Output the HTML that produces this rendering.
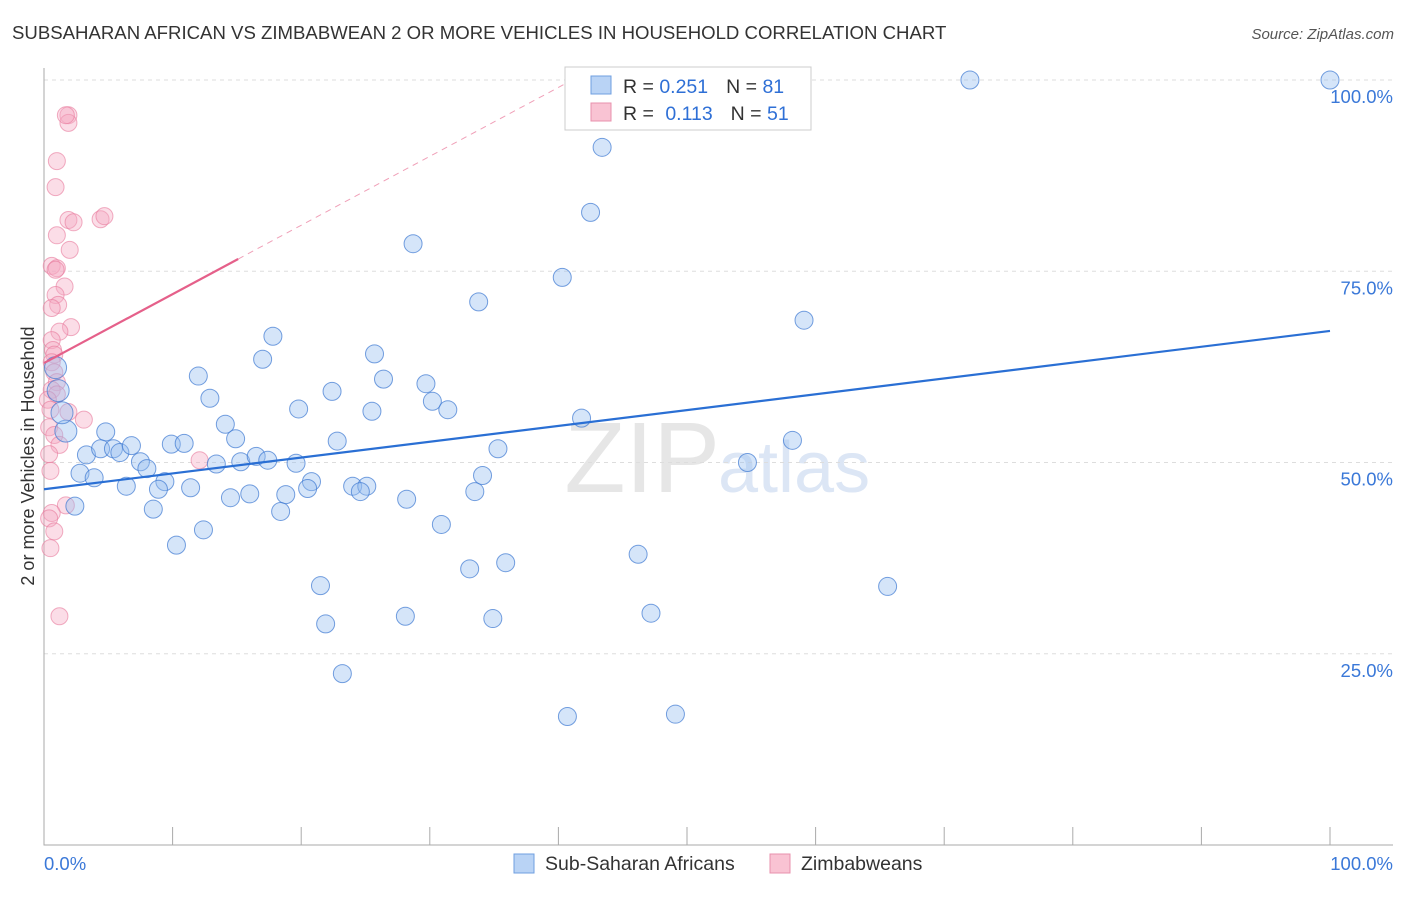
<!DOCTYPE html>
<html><head><meta charset="utf-8"><style>
body{margin:0;background:#fff;font-family:"Liberation Sans",sans-serif}
svg text{font-family:"Liberation Sans",sans-serif}
</style></head><body>
<svg id="chart" width="1406" height="892">
<text x="12" y="39" font-size="18.6" fill="#333">SUBSAHARAN AFRICAN VS ZIMBABWEAN 2 OR MORE VEHICLES IN HOUSEHOLD CORRELATION CHART</text>
<text x="1394" y="39" font-size="15" fill="#555" font-style="italic" text-anchor="end">Source: ZipAtlas.com</text>
<text x="720" y="492" font-size="100" fill="#e6e6e6" text-anchor="end" font-family="Liberation Serif">ZIP</text>
<text x="718" y="492" font-size="72" fill="#dce6f5">atlas</text>
<g id="grid"></g><g id="axes"></g><g id="marks"></g>
<text transform="translate(34,456) rotate(-90)" font-size="18" fill="#333" text-anchor="middle">2 or more Vehicles in Household</text>
<g>
<rect x="565" y="67" width="246" height="63" fill="#fff" stroke="#ccc"/>
<rect x="591" y="76" width="20" height="18" fill="#b9d3f5" stroke="#6f9fe0"/>
<rect x="591" y="103" width="20" height="18" fill="#f9c3d3" stroke="#e890ac"/>
<text x="623" y="93" font-size="19.5" fill="#333">R = <tspan fill="#2e6fd6">0.251</tspan><tspan dx="18" fill="#333">N = </tspan><tspan fill="#2e6fd6">81</tspan></text>
<text x="623" y="120" font-size="19.5" fill="#333">R = <tspan dx="6" fill="#2e6fd6">0.113</tspan><tspan dx="18" fill="#333">N = </tspan><tspan fill="#2e6fd6">51</tspan></text>
</g>
<g>
<rect x="514" y="854" width="20" height="19" fill="#b9d3f5" stroke="#6f9fe0"/>
<text x="545" y="870" font-size="19.5" fill="#333">Sub-Saharan Africans</text>
<rect x="770" y="854" width="20" height="19" fill="#f9c3d3" stroke="#e890ac"/>
<text x="801" y="870" font-size="19.5" fill="#333">Zimbabweans</text>
</g>
</svg>
<script>
const blueX=[72.0,100,43.4,42.5,28.7,40.3,33.8,59.1,17.8,17.0,25.7,12.0,26.4,29.7,22.4,12.9,30.2,19.8,25.5,31.4,41.8,14.1,14.9,22.8,58.2,35.3,4.8,3.3,4.4,5.4,5.9,6.8,9.9,10.9,7.5,8.0,13.4,15.3,16.5,17.4,19.6,34.1,2.8,3.9,9.4,11.4,6.4,8.9,20.8,20.5,24.0,25.1,24.6,33.5,16.0,14.5,18.8,28.2,18.4,8.5,2.4,30.9,12.4,10.3,46.2,35.9,33.1,21.5,65.6,47.2,28.1,34.9,21.9,23.2,40.7,49.1,54.7,1.1,0.9,1.7,1.4];
const blueY=[100,100,91.2,82.7,78.6,74.2,71.0,68.6,66.5,63.5,64.2,61.3,60.9,60.3,59.3,58.4,58.0,57.0,56.7,56.9,55.8,55.0,53.1,52.8,52.9,51.8,54.0,51.0,51.8,51.8,51.3,52.2,52.4,52.5,50.1,49.2,49.8,50.1,50.8,50.3,49.9,48.3,48.6,48.0,47.5,46.7,46.9,46.5,47.5,46.6,46.9,46.9,46.2,46.2,45.9,45.4,45.8,45.2,43.6,43.9,44.3,41.9,41.2,39.2,38.0,36.9,36.1,33.9,33.8,30.3,29.9,29.6,28.9,22.4,16.8,17.1,50.0,59.4,62.4,54.1,56.5];
const pinkX=[1.9,1.9,1.0,0.9,1.9,2.3,4.4,4.7,1.0,2.0,0.6,1.0,0.9,1.6,0.9,1.1,0.6,2.1,1.2,0.6,0.7,0.8,0.6,0.8,1.0,0.6,1.0,0.3,0.5,1.9,3.1,0.4,0.8,1.2,0.4,0.5,12.1,1.7,0.6,0.4,0.8,0.5,1.2,1.7];
const pinkY=[95.4,94.4,89.4,86.0,81.7,81.4,81.8,82.2,79.7,77.8,75.7,75.4,75.2,73.0,71.9,70.6,70.2,67.7,67.1,66.0,64.7,64.1,63.1,61.8,60.5,59.5,58.9,58.2,56.9,56.6,55.6,54.6,53.6,52.3,51.1,48.9,50.3,44.4,43.4,42.7,41.0,38.8,29.9,95.4];
const blueLine=[46.5,67.2], pinkLine=[63.0,76.6,15.1], pinkDashEnd=40.5;
const X=v=>44+v*12.86, Y=v=>845-v*7.65;
const NS="http://www.w3.org/2000/svg";
function mk(g,t,a){const e=document.createElementNS(NS,t);for(const k in a)e.setAttribute(k,a[k]);document.getElementById(g).appendChild(e);return e;}
[25,50,75,100].forEach(t=>{
 const l=mk('grid','line',{x1:44,x2:1393,y1:Y(t),y2:Y(t),stroke:'#ddd','stroke-dasharray':'4,4'});
 
 
 const tx=mk('grid','text',{x:1393,y:Y(t)+23,'font-size':18.5,fill:'#3a78d8','text-anchor':'end'});
 tx.textContent=t.toFixed(1)+'%';
 
 
});
const ax=mk('axes','path',{d:'M44,68V845H1393',stroke:'#aaa',fill:'none'});


for(let i=0;i<=10;i++){const t=mk('axes','line',{x1:X(i*10),x2:X(i*10),y1:827,y2:845,stroke:'#aaa'});
 
 }
[['0.0%',44,'start'],['100.0%',1393,'end']].forEach(a=>{const t=mk('axes','text',{x:a[1],y:870,'font-size':18.5,fill:'#3a78d8','text-anchor':a[2]});t.textContent=a[0];
 
 });
pinkX.forEach((x,i)=>{const c=mk('marks','circle',{cx:X(x),cy:Y(pinkY[i]),r:8.5,fill:'rgba(246,170,195,0.4)',stroke:'rgba(232,120,155,0.6)'});
 
 });
blueX.forEach((x,i)=>{const big=i>=77;const c=mk('marks','circle',{cx:X(x),cy:Y(blueY[i]),r:big?11:9,fill:'rgba(150,190,240,0.4)',stroke:'rgba(60,120,210,0.7)'});
 
 });
const bl=mk('marks','line',{x1:X(0),y1:Y(blueLine[0]),x2:X(100),y2:Y(blueLine[1]),stroke:'#2a6fd4','stroke-width':2.2});


const slope=(pinkLine[1]-pinkLine[0])/pinkLine[2];
const pl=mk('marks','line',{x1:X(0),y1:Y(pinkLine[0]),x2:X(pinkLine[2]),y2:Y(pinkLine[1]),stroke:'#e5608a','stroke-width':2.2});


const pd=mk('marks','line',{x1:X(pinkLine[2]),y1:Y(pinkLine[1]),x2:X(pinkDashEnd),y2:Y(pinkLine[0]+slope*pinkDashEnd),stroke:'#f0a0b8','stroke-dasharray':'6,5'});


</script>
</body></html>
